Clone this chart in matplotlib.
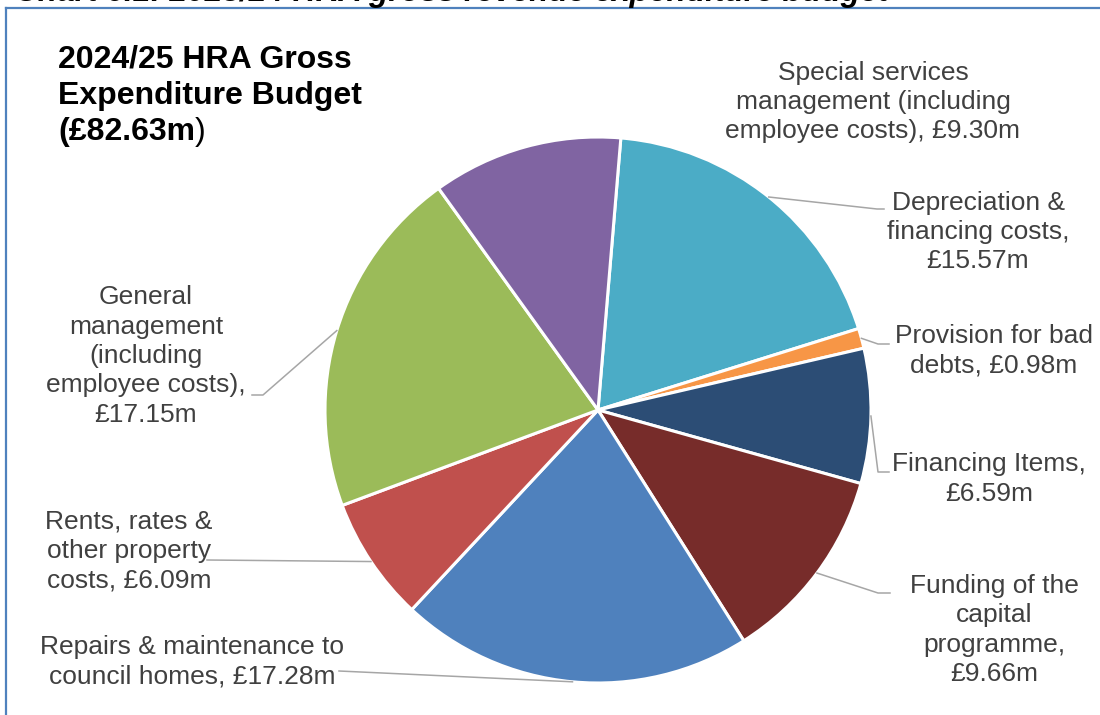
import matplotlib
matplotlib.use("Agg")
import matplotlib.pyplot as plt
import numpy as np

plt.rcParams["font.family"] = ["Liberation Sans", "DejaVu Sans"]

# HRA gross expenditure budget 2024/25, £m
categories = [
    "Depreciation &\nfinancing costs,\n£{:.2f}m",
    "Provision for bad\ndebts, £{:.2f}m",
    "Financing Items,\n£{:.2f}m",
    "Funding of the\ncapital\nprogramme,\n£{:.2f}m",
    "Repairs & maintenance to\ncouncil homes, £{:.2f}m",
    "Rents, rates &\nother property\ncosts, £{:.2f}m",
    "General\nmanagement\n(including\nemployee costs),\n£{:.2f}m",
    "Special services\nmanagement (including\nemployee costs), £{:.2f}m",
]
values = [15.57, 0.98, 6.59, 9.66, 17.28, 6.09, 17.15, 9.30]
total = 82.63
colors = ["#4BACC6", "#F79646", "#2C4D75", "#772C2A",
          "#4F81BD", "#C0504D", "#9BBB59", "#8064A2"]

W, H = 1100, 715
CX, CY, R = 598, 410, 273


def fx(px):
    return px / W


def fy(py):
    return 1 - py / H


def to_data(px, py):
    return (px - CX) / R, (CY - py) / R


# label centres (pixels) and leader routes (elbow, end) per slice
label_pos = [(978, 232), (994, 351), (989, 479), (994, 630),
             (192, 662), (129, 551), (146, 356), (873, 102)]
leaders = [
    [(877, 209), (884, 209)],
    [(878, 344), (889, 344)],
    [(878, 472), (889, 472)],
    [(878, 593), (890, 593)],
    [(339, 671)],
    [(207, 560)],
    [(263, 395), (252, 395)],
    None,
]

fig = plt.figure(figsize=(W / 100, H / 100), dpi=100)

# chart frame (top and left edges only)
fig.add_artist(plt.Line2D([fx(6), 1.0], [fy(8), fy(8)], color="#4F81BD", lw=1.6))
fig.add_artist(plt.Line2D([fx(6), fx(6)], [fy(8), 0.0], color="#4F81BD", lw=1.6))

# caption clipped at the page top
fig.text(fx(15), fy(1.5), "Chart 6.1: 2023/24 HRA gross revenue expenditure budget",
         fontsize=22.8, fontweight="bold", fontstyle="italic", color="black",
         ha="left", va="baseline")

ax = fig.add_axes([fx(CX - R), fy(CY + R), 2 * R / W, 2 * R / H])
wedges, _ = ax.pie(values, colors=colors, startangle=85.2, counterclock=False,
                   radius=1, wedgeprops=dict(edgecolor="white", linewidth=2.2))
for w in wedges:
    w.set_clip_on(False)
ax.set_xlim(-1, 1)
ax.set_ylim(-1, 1)
ax.axis("off")

for w, tmpl, v, (lx, ly), route in zip(wedges, categories, values, label_pos, leaders):
    fig.text(fx(lx), fy(ly), tmpl.format(v), fontsize=19, color="#404040",
             ha="center", va="center", multialignment="center", linespacing=1.28)
    if route is None:
        continue
    mid = np.deg2rad((w.theta1 + w.theta2) / 2)
    xs = [np.cos(mid)] + [to_data(*p)[0] for p in route]
    ys = [np.sin(mid)] + [to_data(*p)[1] for p in route]
    ax.plot(xs, ys, color="#A6A6A6", lw=1.1, clip_on=False)

# chart title; closing bracket drawn in regular weight
fig.text(fx(58), fy(67), "2024/25 HRA Gross", fontsize=23, fontweight="bold",
         ha="left", va="baseline")
fig.text(fx(58), fy(104), "Expenditure Budget", fontsize=23, fontweight="bold",
         ha="left", va="baseline")
t = fig.text(fx(58), fy(140), f"(£{total:.2f}m", fontsize=23, fontweight="bold",
             ha="left", va="baseline")
fig.canvas.draw()
bb = t.get_window_extent()
fig.text(bb.x1 / W, fy(140), ")", fontsize=23, ha="left", va="baseline")

fig.savefig("out.png", dpi=100)
